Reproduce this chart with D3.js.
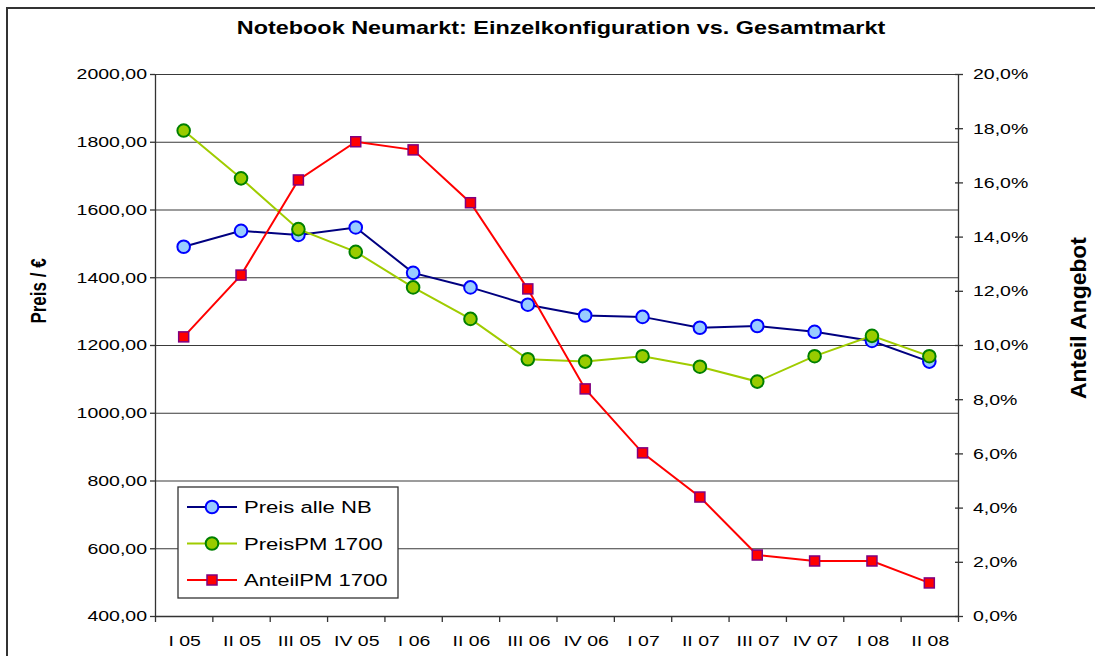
<!DOCTYPE html>
<html>
<head>
<meta charset="utf-8">
<script src="https://cdn.jsdelivr.net/npm/d3@7"></script>
<style>
  html, body { margin: 0; padding: 0; background: #fff; }
  svg { display: block; font-family: "Liberation Sans", Arial, sans-serif; }
</style>
</head>
<body>
<svg id="chart" width="1095" height="656"></svg>
<script>
// ---- data ----
const categories = ["I 05","II 05","III 05","IV 05","I 06","II 06","III 06","IV 06","I 07","II 07","III 07","IV 07","I 08","II 08"];
const preisAlleNB = [1490,1537,1525,1547,1413,1370,1319,1287,1283,1251,1256,1239,1212,1151];
const preisPM1700 = [1833,1692,1542,1475,1370,1277,1158,1151,1167,1136,1092,1167,1227,1167];
const anteilPM1700 = [0.1030,0.1258,0.1609,0.1750,0.1720,0.1525,0.1207,0.0838,0.0602,0.0439,0.0225,0.0203,0.0203,0.0122];
const leftTicks = [400,600,800,1000,1200,1400,1600,1800,2000];
const rightTicks = [0,0.02,0.04,0.06,0.08,0.10,0.12,0.14,0.16,0.18,0.20];
const seriesNames = ["Preis alle NB","PreisPM 1700","AnteilPM 1700"];
const titleText = "Notebook Neumarkt: Einzelkonfiguration vs. Gesamtmarkt";
const leftTitle = "Preis / €";
const rightTitle = "Anteil Angebot";

// ---- layout ----
const SX = 1.3; // horizontal text stretch seen in the reference
const L = 155, R = 958, T = 74, B = 616;
const svg = d3.select("#chart");
const loc = d3.formatLocale({decimal: ",", thousands: "", grouping: [3], currency: ["", "€"]});

svg.append("rect").attr("x",7).attr("y",8).attr("width",1200).attr("height",800)
  .attr("fill","#fff").attr("stroke","#333").attr("stroke-width",2);

const x = d3.scaleBand().domain(categories).range([L, R]);
const xb = d3.scaleLinear().domain([0, categories.length]).range([L, R]);
const yL = d3.scaleLinear().domain([400, 2000]).range([B, T]);
const yR = d3.scaleLinear().domain([0, 0.20]).range([B, T]);

// gridlines
svg.append("g").attr("transform",`translate(${L},0)`)
  .call(d3.axisLeft(yL).tickValues(leftTicks).tickSize(-(R-L)).tickFormat(""))
  .call(g => g.select(".domain").remove())
  .call(g => g.selectAll("line").attr("stroke","#3a3a3a").attr("stroke-width",1.2));

function stretch(sel, dx) {
  sel.selectAll("text").each(function() {
    const t = d3.select(this);
    t.attr("x", 0).attr("transform", `translate(${dx},0) scale(${SX},1)`);
  });
}

// left axis
svg.append("g").attr("transform",`translate(${L},0)`)
  .call(d3.axisLeft(yL).tickValues(leftTicks).tickSize(5).tickSizeOuter(0)
        .tickFormat(d => loc.format(".2f")(d)))
  .call(g => g.selectAll("text").attr("font-size",15).attr("fill","#000").attr("font-family","Liberation Sans, Arial, sans-serif"))
  .call(g => stretch(g, -8))
  .call(g => g.selectAll("line,path").attr("stroke","#333").attr("stroke-width",1.3));

// right axis
svg.append("g").attr("transform",`translate(${R},0)`)
  .call(d3.axisRight(yR).tickValues(rightTicks).tickSize(5).tickSizeOuter(0)
        .tickFormat(d => loc.format(".1%")(d)))
  .call(g => g.selectAll(".tick line").attr("x1",-3))
  .call(g => g.selectAll("text").attr("font-size",15).attr("fill","#000").attr("font-family","Liberation Sans, Arial, sans-serif"))
  .call(g => stretch(g, 15))
  .call(g => g.selectAll("line,path").attr("stroke","#333").attr("stroke-width",1.3));

// bottom axis: boundary ticks
svg.append("g").attr("transform",`translate(0,${B})`)
  .call(d3.axisBottom(xb).tickValues(d3.range(categories.length+1)).tickSize(6).tickSizeOuter(0).tickFormat(""))
  .call(g => g.selectAll("line,path").attr("stroke","#333").attr("stroke-width",1.3));
// bottom axis: labels
svg.append("g").attr("transform",`translate(0,${B})`)
  .call(d3.axisBottom(x).tickSize(0).tickSizeOuter(0))
  .call(g => g.select(".domain").remove())
  .call(g => g.selectAll("text").attr("font-size",15).attr("fill","#000").attr("font-family","Liberation Sans, Arial, sans-serif")
        .attr("y", 25).attr("dy","0.32em"))
  .call(g => stretch(g, 1));

// titles
svg.append("text").attr("transform",`translate(561,28) scale(${SX},1)`)
  .attr("text-anchor","middle").attr("dominant-baseline","central")
  .attr("font-weight","bold").attr("font-size",18).text(titleText);
svg.append("text").attr("transform",`translate(38,291) scale(${SX},1) rotate(-90)`)
  .attr("text-anchor","middle").attr("dominant-baseline","central")
  .attr("font-weight","bold").attr("font-size",17).text(leftTitle);
svg.append("text").attr("transform",`translate(1078,318) scale(${SX},1) rotate(-90)`)
  .attr("text-anchor","middle").attr("dominant-baseline","central")
  .attr("font-weight","bold").attr("font-size",17)
  .attr("textLength",162).attr("lengthAdjust","spacingAndGlyphs").text(rightTitle);

// series
const cx = (d,i) => x(categories[i]) + x.bandwidth()/2;
const lineL = d3.line().x(cx).y(d => yL(d));
const lineR = d3.line().x(cx).y(d => yR(d));

svg.append("path").datum(preisAlleNB).attr("d", lineL).attr("fill","none").attr("stroke","#000080").attr("stroke-width",2);
svg.selectAll(".mB").data(preisAlleNB).join("circle").attr("class","mB")
  .attr("cx", cx).attr("cy", d => yL(d)).attr("r",6.3)
  .attr("fill","#99CCFF").attr("stroke","#0000FF").attr("stroke-width",2);

svg.append("path").datum(preisPM1700).attr("d", lineL).attr("fill","none").attr("stroke","#A0CC00").attr("stroke-width",2);
svg.selectAll(".mG").data(preisPM1700).join("circle").attr("class","mG")
  .attr("cx", cx).attr("cy", d => yL(d)).attr("r",6.3)
  .attr("fill","#99CC00").attr("stroke","#008000").attr("stroke-width",2);

svg.append("path").datum(anteilPM1700).attr("d", lineR).attr("fill","none").attr("stroke","#FF0000").attr("stroke-width",2);
svg.selectAll(".mR").data(anteilPM1700).join("rect").attr("class","mR")
  .attr("x", (d,i) => cx(d,i) - 5).attr("y", d => yR(d) - 5).attr("width",10).attr("height",10)
  .attr("fill","#FF0000").attr("stroke","#800080").attr("stroke-width",1.5);

// legend
const lg = svg.append("g");
lg.append("rect").attr("x",178).attr("y",487).attr("width",220).attr("height",111)
  .attr("fill","#fff").attr("stroke","#333").attr("stroke-width",1.3);
const legendRows = [
  {name: seriesNames[0], line: "#000080", fill: "#99CCFF", stroke: "#0000FF", shape: "circle"},
  {name: seriesNames[1], line: "#A0CC00", fill: "#99CC00", stroke: "#008000", shape: "circle"},
  {name: seriesNames[2], line: "#FF0000", fill: "#FF0000", stroke: "#800080", shape: "square"}
];
const rowY = d3.scalePoint().domain(seriesNames).range([507, 580]);
legendRows.forEach(r => {
  const y = rowY(r.name);
  lg.append("line").attr("x1",187).attr("x2",237).attr("y1",y).attr("y2",y).attr("stroke",r.line).attr("stroke-width",2);
  if (r.shape === "circle") {
    lg.append("circle").attr("cx",212).attr("cy",y).attr("r",6.3).attr("fill",r.fill).attr("stroke",r.stroke).attr("stroke-width",2);
  } else {
    lg.append("rect").attr("x",207).attr("y",y-5).attr("width",10).attr("height",10).attr("fill",r.fill).attr("stroke",r.stroke).attr("stroke-width",1.5);
  }
  lg.append("text").attr("transform",`translate(244,${y}) scale(${SX},1)`)
    .attr("dominant-baseline","central").attr("font-size",17).text(r.name);
});
</script>
</body>
</html>
